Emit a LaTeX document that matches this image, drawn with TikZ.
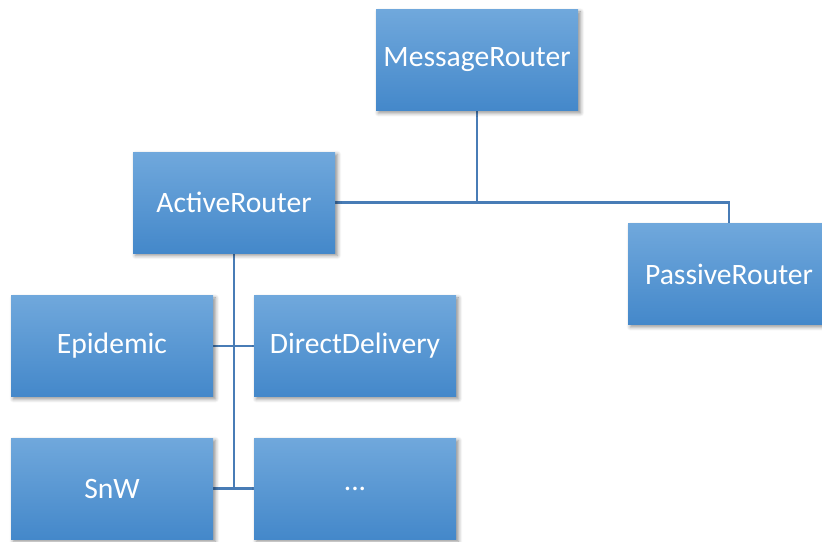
\documentclass[tikz,border=0pt]{standalone}
\usepackage{fontspec}
\setmainfont{Carlito}
\usetikzlibrary{shadows.blur,backgrounds}
\definecolor{boxtop}{RGB}{112,168,220}
\definecolor{boxbot}{RGB}{68,136,202}
\definecolor{wire}{RGB}{72,124,182}
\begin{document}
\begin{tikzpicture}[x=0.5pt,y=-0.5pt]
\tikzstyle{router}=[rectangle, minimum width=101pt, minimum height=50.5pt, inner sep=0pt,
  top color=boxtop, bottom color=boxbot, text=white, font=\fontsize{14.8}{17}\selectfont,
  blur shadow={shadow xshift=1.2pt, shadow yshift=-1.2pt, shadow blur steps=6, shadow opacity=45}]
\tikzstyle{wire}=[draw=wire, line width=1.4pt]
\useasboundingbox (0,0) rectangle (822,541);
\node[router] (mr) at (477,60) {MessageRouter};
\node[router] (ar) at (234,202.5) {ActiveRouter};
\node[router] (pr) at (729,274) {PassiveRouter};
\node[router] (epi) at (112,346) {Epidemic};
\node[router] (dd) at (355,346) {DirectDelivery};
\node[router] (snw) at (112,488.5) {SnW};
\node[router] (more) at (355,488.5) {...};
\begin{scope}[on background layer]
\draw[wire] (mr.south) -- (mr.south |- ar.east);
\draw[wire] (ar.east) -- (ar.east -| pr.north) -- (pr.north);
\draw[wire] (ar.south) -- (ar.south |- snw.east);
\draw[wire] (epi.east) -- (dd.west);
\draw[wire] (snw.east) -- (more.west);
\end{scope}
\end{tikzpicture}
\end{document}
